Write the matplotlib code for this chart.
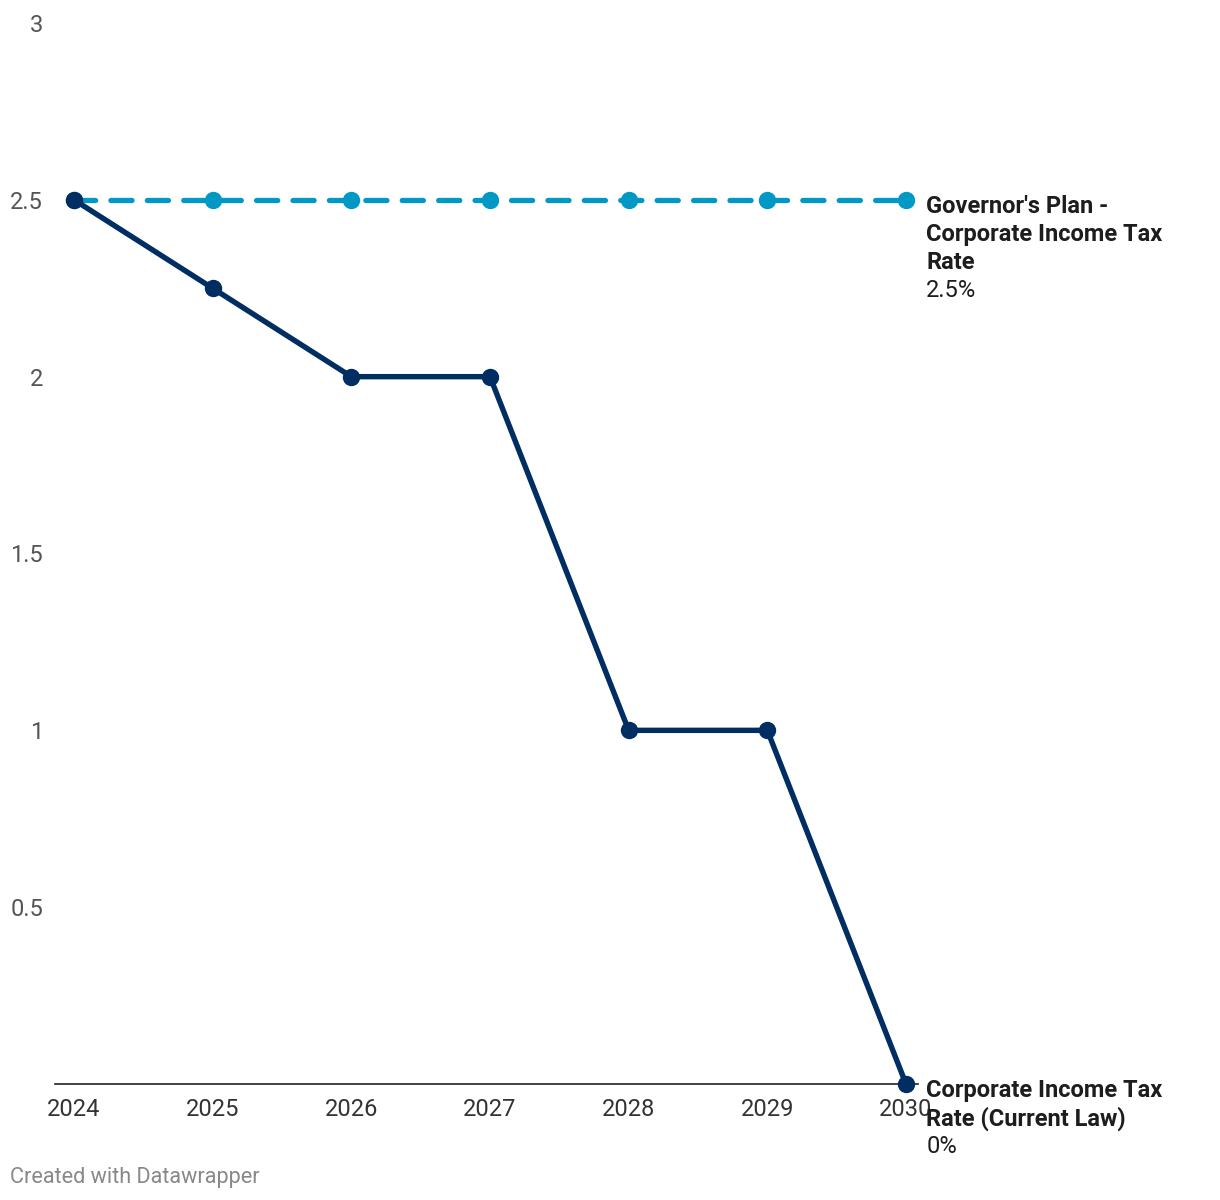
import matplotlib.pyplot as plt

plt.rcParams['font.family'] = ['Roboto', 'DejaVu Sans']

years = [2024, 2025, 2026, 2027, 2028, 2029, 2030]
current_law = [2.5, 2.25, 2.0, 2.0, 1.0, 1.0, 0.0]
governor_plan = [2.5, 2.5, 2.5, 2.5, 2.5, 2.5, 2.5]
y_ticks = [0.5, 1, 1.5, 2, 2.5, 3]
y_tick_labels = ['0.5', '1', '1.5', '2', '2.5', '3']

navy = '#002d62'
blue = '#0099c6'

fig = plt.figure(figsize=(12.2, 12), dpi=100)
ax = fig.add_axes([55/1220, 1 - 1084/1200, (918-55)/1220, (1084-23)/1200])

ax.plot(years, governor_plan, color=blue, lw=3.8, ls=(0, (4.0, 2.9)),
        dash_capstyle='round', marker='o', ms=11.5, clip_on=False, zorder=3)
ax.plot(years, current_law, color=navy, lw=3.9, marker='o', ms=11.5,
        solid_joinstyle='round', clip_on=False, zorder=4)

ax.set_xlim(2024 - 19/138.67, 2030 + 12/138.67)
ax.set_ylim(0, 3)

for s in ['top', 'right', 'left']:
    ax.spines[s].set_visible(False)
ax.spines['bottom'].set_color('#222222')
ax.spines['bottom'].set_linewidth(1.2)

ax.set_yticks(y_ticks)
ax.set_yticklabels(y_tick_labels)
ax.set_xticks(years)
ax.set_xticklabels([str(y) for y in years])
ax.tick_params(axis='y', length=0, pad=8.5, labelsize=17, labelcolor='#555555')
ax.tick_params(axis='x', length=0, pad=10, labelsize=17, labelcolor='#333333')

# end labels
def end_label(yval, lines, value):
    for i, txt in enumerate(lines):
        ax.annotate(txt, (years[-1], yval), xytext=(14.5, -4.5 - i*20.2),
                    textcoords='offset points', ha='left', va='center',
                    fontsize=17, fontweight='bold', color='#1d1d1d',
                    annotation_clip=False)
    ax.annotate(value, (years[-1], yval), xytext=(14.5, -4.5 - len(lines)*20.2),
                textcoords='offset points', ha='left', va='center',
                fontsize=17, color='#1d1d1d', annotation_clip=False)

end_label(governor_plan[-1], ["Governor's Plan -", 'Corporate Income Tax', 'Rate'], '2.5%')
end_label(current_law[-1], ['Corporate Income Tax', 'Rate (Current Law)'], '0%')

fig.text(10/1220, 1 - 1178/1200, 'Created with Datawrapper', fontsize=15.6,
         color='#888888', ha='left', va='center')

fig.savefig('out.png', dpi=100)
